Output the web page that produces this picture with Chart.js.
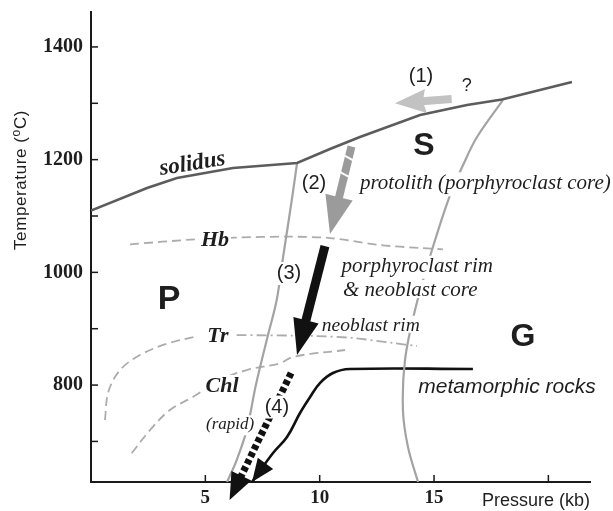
<!DOCTYPE html>
<html><head><meta charset="utf-8">
<script src="https://cdn.jsdelivr.net/npm/chart.js@4"></script>
<style>html,body{margin:0;padding:0;background:#fff}canvas{display:block}</style>
</head><body>
<canvas id="c" width="613" height="511"></canvas>
<script>
// ---- axis ticks ----
const xTickValues = [5, 10, 15, 20];
const xTickLabels = ['5', '10', '15', ''];
const yTickValues = [700, 800, 900, 1000, 1100, 1200, 1300, 1400];
const yTickLabels = ['', '800', '', '1000', '', '1200', '', '1400'];

// ---- curves (pressure kb, temperature °C) ----
const solidusP = [0, 2.45, 3.76, 6.21, 9.01, 10.45, 11.76, 14.39, 16.44, 17.97, 21.03];
const solidusT = [1109.7, 1149.7, 1167.4, 1185.2, 1194.0, 1218.9, 1240.2, 1279.2, 1297.0, 1306.7, 1337.8];

const leftBoundP = [9.01, 8.78, 8.40, 8.12, 7.74, 7.21, 6.81, 6.37, 5.95];
const leftBoundT = [1194.0, 1128.4, 1027.2, 950.9, 888.8, 800.1, 720.2, 667.0, 627.9];

const rightBoundP = [18.01, 16.88, 16.27, 15.70, 14.91, 14.17, 13.73, 13.64, 13.86, 14.30];
const rightBoundT = [1305.8, 1240.2, 1190.5, 1137.2, 1039.6, 933.2, 844.4, 755.7, 690.0, 627.9];

const hbP = [1.71, 4.55, 6.30, 8.56, 10.45, 12.64, 14.39, 15.39];
const hbT = [1049.8, 1058.6, 1061.7, 1063.3, 1060.9, 1048.5, 1043.2, 1040.9];

const trLeftP = [0.61, 0.76, 1.27, 2.14, 3.38, 4.69];
const trLeftT = [738.0, 788.2, 826.7, 853.3, 874.1, 887.0];
const trRightP = [6.37, 9.87, 11.46, 13.21, 14.25];
const trRightT = [888.8, 887.0, 883.5, 874.6, 869.3];

const chlP = [1.78, 2.58, 3.45, 4.47, 5.64, 6.81, 8.26, 8.85, 11.11];
const chlT = [678.9, 720.2, 755.7, 779.3, 808.9, 826.7, 838.6, 850.3, 862.2];

const metaP = [16.70, 11.32, 10.58, 10.01, 9.58, 9.14, 8.57, 7.96, 7.04];
const metaT = [828.5, 828.5, 821.4, 803.6, 778.8, 750.4, 707.8, 679.4, 627.9];

// ---- path arrows: [start P, start T] -> [end P, end T] ----
const arrow1From = [15.77, 1307.6], arrow1To = [13.29, 1300.0];
const arrow2From = [11.39, 1223.3], arrow2To = [10.45, 1068.0];
const arrow3From = [10.23, 1046.7], arrow3To = [9.01, 853.3];
const arrow4From = [8.75, 821.4],   arrow4To = [6.06, 596.0];

const pts = (ps, ts) => ps.map((p, i) => ({x: p, y: ts[i]}));

const GREY_LINE = '#a3a3a3';
const DASH_GREY = '#acacac';

const datasets = [
  {data: pts(solidusP, solidusT), borderColor: '#5c5c5c', borderWidth: 2.6, tension: 0},
  {data: pts(leftBoundP, leftBoundT), borderColor: GREY_LINE, borderWidth: 2.2, tension: 0.35},
  {data: pts(rightBoundP, rightBoundT), borderColor: GREY_LINE, borderWidth: 2.2, tension: 0.35},
  {data: pts(hbP, hbT), borderColor: DASH_GREY, borderWidth: 1.8, borderDash: [9, 5], tension: 0.3},
  {data: pts(trLeftP, trLeftT), borderColor: DASH_GREY, borderWidth: 1.8, borderDash: [9, 5], tension: 0.35},
  {data: pts(trRightP, trRightT), borderColor: DASH_GREY, borderWidth: 1.8, borderDash: [10, 4, 2, 4], tension: 0.3},
  {data: pts(chlP, chlT), borderColor: DASH_GREY, borderWidth: 1.8, borderDash: [9, 5], tension: 0.35},
  {data: pts(metaP, metaT), borderColor: '#111', borderWidth: 2.6, tension: 0.4},
].map(d => Object.assign({showLine: true, pointRadius: 0, fill: false, borderCapStyle: 'butt'}, d));

// ---- annotation layout ----
const SERIF = '"Liberation Serif", "Times New Roman", serif';
const SANS = '"Liberation Sans", Arial, sans-serif';
const annotations = [
  {text: 'solidus', p: 4.42, t: 1195.8, font: `italic bold 23px ${SERIF}`, align: 'center', rot: -9},
  {text: 'S', p: 14.56, t: 1228.6, font: `bold 32px ${SANS}`, align: 'center'},
  {text: 'P', p: 3.41, t: 956.2, font: `bold 34px ${SANS}`, align: 'center'},
  {text: 'G', p: 18.89, t: 888.8, font: `bold 32px ${SANS}`, align: 'center'},
  {text: '(1)', p: 14.43, t: 1348.4, font: `20px ${SANS}`, align: 'center'},
  {text: '?', p: 16.43, t: 1334.2, font: `18px ${SANS}`, align: 'center'},
  {text: '(2)', p: 9.75, t: 1158.5, font: `20px ${SANS}`, align: 'center'},
  {text: 'protolith (porphyroclast core)', p: 11.76, t: 1147.4, font: `italic 21px ${SERIF}`, align: 'left', bg: true},
  {text: '(3)', p: 8.66, t: 997.9, font: `20px ${SANS}`, align: 'center', bg: true},
  {text: 'porphyroclast rim', p: 10.95, t: 1001.1, font: `italic 21px ${SERIF}`, align: 'left', bg: true},
  {text: '& neoblast core', p: 11.02, t: 958.0, font: `italic 21px ${SERIF}`, align: 'left', bg: true},
  {text: 'neoblast rim', p: 10.09, t: 896.4, font: `italic 19.5px ${SERIF}`, align: 'left', bg: true},
  {text: 'metamorphic rocks', p: 14.31, t: 785.3, font: `italic 21px ${SANS}`, align: 'left'},
  {text: '(rapid)', p: 5.03, t: 721.5, font: `italic 17px ${SERIF}`, align: 'left', bg: true},
  {text: 'Hb', p: 5.42, t: 1059.2, font: `italic bold 22px ${SERIF}`, align: 'center', bg: true},
  {text: 'Tr', p: 5.55, t: 888.8, font: `italic bold 22px ${SERIF}`, align: 'center', bg: true},
  {text: 'Chl', p: 5.73, t: 801.0, font: `italic bold 22px ${SERIF}`, align: 'center', bg: true},
  {text: '(4)', p: 8.13, t: 761.0, font: `20px ${SANS}`, align: 'center', bg: true},
];

function drawArrow(ctx, x0, y0, x1, y1, o) {
  const dx = x1 - x0, dy = y1 - y0, len = Math.hypot(dx, dy);
  const ux = dx / len, uy = dy / len, nx = -uy, ny = ux;
  const bx = x1 - ux * o.headLen, by = y1 - uy * o.headLen;
  ctx.save();
  ctx.strokeStyle = o.color; ctx.fillStyle = o.color;
  ctx.lineWidth = o.body; ctx.lineCap = 'butt';
  ctx.setLineDash(o.dash || []);
  ctx.beginPath(); ctx.moveTo(x0, y0); ctx.lineTo(bx + ux * 1, by + uy * 1); ctx.stroke();
  ctx.setLineDash([]);
  if (o.gaps) {
    ctx.strokeStyle = '#fff'; ctx.lineWidth = 2;
    o.gaps.forEach(f => {
      const gx = x0 + dx * f, gy = y0 + dy * f;
      ctx.beginPath();
      ctx.moveTo(gx + nx * (o.body / 2 + 1), gy + ny * (o.body / 2 + 1) - 1.5);
      ctx.lineTo(gx - nx * (o.body / 2 + 1), gy - ny * (o.body / 2 + 1) + 1.5);
      ctx.stroke();
    });
  }
  const notch = o.notch || 0;
  ctx.fillStyle = o.color;
  ctx.beginPath();
  ctx.moveTo(x1, y1);
  ctx.lineTo(bx + nx * o.headHalf - ux * notch, by + ny * o.headHalf - uy * notch);
  ctx.lineTo(bx, by);
  ctx.lineTo(bx - nx * o.headHalf - ux * notch, by - ny * o.headHalf - uy * notch);
  ctx.closePath(); ctx.fill();
  ctx.restore();
}

const overlay = {
  id: 'overlay',
  afterDatasetsDraw(chart) {
    const ctx = chart.ctx, xs = chart.scales.x, ys = chart.scales.y, ca = chart.chartArea;
    const X = v => xs.getPixelForValue(v), Y = v => ys.getPixelForValue(v);
    ctx.save();
    // inward tick marks
    ctx.strokeStyle = '#1a1a1a'; ctx.lineWidth = 1.5;
    yTickValues.forEach(v => {
      const y = Y(v);
      ctx.beginPath(); ctx.moveTo(ca.left, y); ctx.lineTo(ca.left + 7, y); ctx.stroke();
    });
    xTickValues.forEach(v => {
      const x = X(v);
      ctx.beginPath(); ctx.moveTo(x, ca.bottom); ctx.lineTo(x, ca.bottom - 7); ctx.stroke();
    });
    // arrowhead on metamorphic curve
    {
      const n = metaP.length;
      const xa = X(metaP[n - 2]), ya = Y(metaT[n - 2]), xb = X(metaP[n - 1]), yb = Y(metaT[n - 1]);
      const L = Math.hypot(xb - xa, yb - ya), ux = (xb - xa) / L, uy = (yb - ya) / L;
      const hl = 23, hh = 9.5;
      const bx = xb - ux * hl, by = yb - uy * hl;
      ctx.fillStyle = '#111';
      ctx.beginPath(); ctx.moveTo(xb, yb);
      ctx.lineTo(bx - uy * hh, by + ux * hh);
      ctx.lineTo(bx + uy * hh, by - ux * hh);
      ctx.closePath(); ctx.fill();
    }
    // P-T path arrows
    drawArrow(ctx, X(arrow1From[0]), Y(arrow1From[1]), X(arrow1To[0]), Y(arrow1To[1]),
      {color: '#c2c2c2', body: 8, headHalf: 12, headLen: 28, notch: 3});
    drawArrow(ctx, X(arrow2From[0]), Y(arrow2From[1]), X(arrow2To[0]), Y(arrow2To[1]),
      {color: '#9b9b9b', body: 8, headHalf: 14, headLen: 38, gaps: [0.13, 0.32]});
    drawArrow(ctx, X(arrow3From[0]), Y(arrow3From[1]), X(arrow3To[0]), Y(arrow3To[1]),
      {color: '#111', body: 9, headHalf: 13, headLen: 36});
    drawArrow(ctx, X(arrow4From[0]), Y(arrow4From[1]), X(arrow4To[0]), Y(arrow4To[1]),
      {color: '#111', body: 7, headHalf: 11, headLen: 27, dash: [5, 3]});
    // text labels
    annotations.forEach(a => {
      ctx.save();
      ctx.font = a.font;
      const m = ctx.measureText(a.text);
      const w = m.width;
      ctx.translate(X(a.p), Y(a.t));
      if (a.rot) ctx.rotate(a.rot * Math.PI / 180);
      let lx = 0, ly = 0;
      if (a.align === 'center') {
        lx = -w / 2;
        ly = (m.actualBoundingBoxAscent - m.actualBoundingBoxDescent) / 2;
      }
      ctx.textAlign = 'left'; ctx.textBaseline = 'alphabetic';
      if (a.bg) {
        ctx.fillStyle = '#fff';
        ctx.fillRect(lx - 2, ly - m.actualBoundingBoxAscent - 2, w + 4,
          m.actualBoundingBoxAscent + m.actualBoundingBoxDescent + 4);
      }
      ctx.fillStyle = '#1e1e1e';
      ctx.fillText(a.text, lx, ly);
      ctx.restore();
    });
    // axis titles
    ctx.fillStyle = '#1e1e1e';
    ctx.font = `18px ${SANS}`;
    ctx.textAlign = 'right'; ctx.textBaseline = 'alphabetic';
    ctx.fillText('Pressure (kb)', ca.right, ca.bottom + 24);
    ctx.save();
    ctx.translate(20, 180); ctx.rotate(-Math.PI / 2);
    ctx.textAlign = 'left';
    try { ctx.letterSpacing = '0.6px'; } catch (e) {}
    const p1 = 'Temperature (', p2 = 'o', p3 = 'C)';
    ctx.font = `17px ${SANS}`; const w1 = ctx.measureText(p1).width, w3 = ctx.measureText(p3).width;
    ctx.font = `12px ${SANS}`; const w2 = ctx.measureText(p2).width;
    let sx = -(w1 + w2 + w3) / 2; const bl = 6;
    ctx.font = `17px ${SANS}`; ctx.fillText(p1, sx, bl); sx += w1;
    ctx.font = `12px ${SANS}`; ctx.fillText(p2, sx, bl - 6); sx += w2;
    ctx.font = `17px ${SANS}`; ctx.fillText(p3, sx, bl);
    ctx.restore();
    ctx.restore();
  }
};

new Chart(document.getElementById('c'), {
  type: 'scatter',
  data: {datasets},
  options: {
    responsive: false, animation: false,
    layout: {padding: {top: 12, right: 23, left: 0, bottom: 0}},
    plugins: {legend: {display: false}, tooltip: {enabled: false}},
    scales: {
      x: {
        type: 'linear', min: 0, max: 21.82,
        afterBuildTicks: s => { s.ticks = xTickValues.map(v => ({value: v})); },
        afterFit: s => { s.height = 29; s.paddingLeft = 0; s.paddingRight = 0; s.paddingTop = 0; s.paddingBottom = 0; },
        grid: {display: false, drawTicks: false},
        border: {display: true, color: '#1a1a1a', width: 2},
        ticks: {padding: 5, autoSkip: false, maxRotation: 0, color: '#1e1e1e',
          font: {family: 'Liberation Serif', size: 19, weight: 'bold'},
          callback: (v, i) => xTickLabels[i]}
      },
      y: {
        type: 'linear', min: 628, max: 1462,
        afterBuildTicks: s => { s.ticks = yTickValues.map(v => ({value: v})); },
        afterFit: s => { s.width = 91; s.paddingTop = 0; s.paddingBottom = 0; s.paddingLeft = 0; s.paddingRight = 0; },
        grid: {display: false, drawTicks: false},
        border: {display: true, color: '#1a1a1a', width: 2},
        ticks: {padding: 8, autoSkip: false, color: '#1e1e1e',
          font: {family: 'Liberation Serif', size: 20, weight: 'bold'},
          callback: (v, i) => yTickLabels[i]}
      }
    }
  },
  plugins: [overlay]
});
</script></body></html>
